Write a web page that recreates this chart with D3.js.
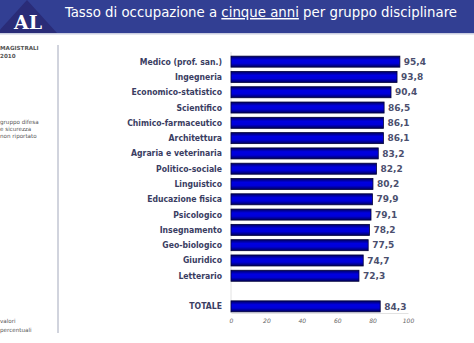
<!DOCTYPE html>
<html lang="it">
<head>
<meta charset="utf-8">
<script src="https://cdn.jsdelivr.net/npm/d3@7"></script>
<style>
    body { margin: 0; background: #fff; }
    svg text { font-family: "DejaVu Sans", Verdana, sans-serif; }
    .cat text { fill: #3a3d62; font-weight: bold; font-size: 8.6px; font-stretch: condensed; }
    .val { fill: #4b4f6e; font-weight: bold; font-size: 9px; }
    .axisX text { fill: #666; font-style: italic; font-size: 6px; }
    .axisX path, .axisX line { stroke: #e2e2e2; }
    .side { fill: #555; font-size: 5.6px; }
</style>
</head>
<body>
<svg id="chart" width="474" height="343"></svg>
<script>
// data
const categories = ["Medico (prof. san.)", "Ingegneria", "Economico-statistico", "Scientifico",
    "Chimico-farmaceutico", "Architettura", "Agraria e veterinaria", "Politico-sociale",
    "Linguistico", "Educazione fisica", "Psicologico", "Insegnamento", "Geo-biologico",
    "Giuridico", "Letterario"];
const values = [95.4, 93.8, 90.4, 86.5, 86.1, 86.1, 83.2, 82.2, 80.2, 79.9, 79.1, 78.2, 77.5, 74.7, 72.3];
const totalLabel = "TOTALE";
const totalValue = 84.3;
const xTicks = [0, 20, 40, 60, 80, 100];

const svg = d3.select("#chart");

// header band
svg.append("rect").attr("x", 0).attr("y", 0).attr("width", 474).attr("height", 33).attr("fill", "#323f93");
svg.append("rect").attr("x", 0).attr("y", 33).attr("width", 474).attr("height", 1.5).attr("fill", "#c9cde0");
svg.append("path").attr("d", "M27,0 L57,33 L-3,33 Z").attr("fill", "#2a2c78");
svg.append("text").attr("x", 28).attr("y", 29).attr("text-anchor", "middle")
    .style("font-family", "'DejaVu Serif', 'Liberation Serif', serif")
    .style("font-weight", "bold").style("font-size", "19px").attr("fill", "#fff").text("AL");

const title = svg.append("text").attr("x", 65).attr("y", 17)
    .attr("fill", "#fff").style("font-size", "14.8px").style("font-stretch", "condensed");
title.append("tspan").text("Tasso di occupazione a ");
title.append("tspan").style("text-decoration", "underline").text("cinque anni");
title.append("tspan").text(" per gruppo disciplinare");

// left side panel
svg.append("line").attr("x1", 58).attr("x2", 58).attr("y1", 45).attr("y2", 333)
    .attr("stroke", "#a3a8bb").attr("stroke-width", 1);
const sideText = [
    {t: "MAGISTRALI", y: 50, b: true}, {t: "2010", y: 58, b: true},
    {t: "gruppo difesa", y: 124}, {t: "e sicurezza", y: 131}, {t: "non riportato", y: 138},
    {t: "valori", y: 323}, {t: "percentuali", y: 332}
];
svg.selectAll(".side").data(sideText).enter().append("text")
    .attr("class", "side").attr("x", 0).attr("y", d => d.y)
    .style("font-weight", d => d.b ? "bold" : "normal").text(d => d.t);

// scales
const domain = categories.concat([" ", totalLabel]);
const rows = categories.map((c, i) => ({name: c, value: values[i]}))
    .concat([{name: totalLabel, value: totalValue}]);

const x = d3.scaleLinear().domain([0, 100]).range([231, 408]);
const y = d3.scaleBand().domain(domain).range([54, 314]).paddingInner(0.28).paddingOuter(0.14);

// bar gradient
const grad = svg.append("defs").append("linearGradient").attr("id", "barGrad")
    .attr("x1", 0).attr("x2", 0).attr("y1", 0).attr("y2", 1);
grad.append("stop").attr("offset", "0%").attr("stop-color", "#000060");
grad.append("stop").attr("offset", "35%").attr("stop-color", "#0000e0");
grad.append("stop").attr("offset", "65%").attr("stop-color", "#0000d8");
grad.append("stop").attr("offset", "100%").attr("stop-color", "#00005a");

// x axis
svg.append("g").attr("class", "axisX")
    .attr("transform", "translate(0," + 313 + ")")
    .call(d3.axisBottom(x).tickValues(xTicks).tickSize(0).tickPadding(6));
svg.append("line").attr("x1", x(0)).attr("x2", x(0)).attr("y1", 52).attr("y2", 313)
    .attr("stroke", "#e2e2e2");

// category labels
svg.append("g").attr("class", "cat").selectAll("text").data(rows).enter().append("text")
    .attr("x", 222).attr("y", d => y(d.name) + y.bandwidth() / 2)
    .attr("dy", "0.35em").attr("text-anchor", "end").text(d => d.name);

// bars
svg.selectAll(".bar").data(rows).enter().append("rect")
    .attr("class", "bar")
    .attr("x", x(0)).attr("y", d => y(d.name))
    .attr("width", d => x(d.value) - x(0)).attr("height", y.bandwidth())
    .attr("fill", "url(#barGrad)").attr("stroke", "#00003a").attr("stroke-width", 0.8);

// value labels
svg.selectAll(".val").data(rows).enter().append("text")
    .attr("class", "val")
    .attr("x", d => x(d.value) + 4).attr("y", d => y(d.name) + y.bandwidth() / 2)
    .attr("dy", "0.35em").text(d => String(d.value).replace(".", ","));
</script>
</body>
</html>
